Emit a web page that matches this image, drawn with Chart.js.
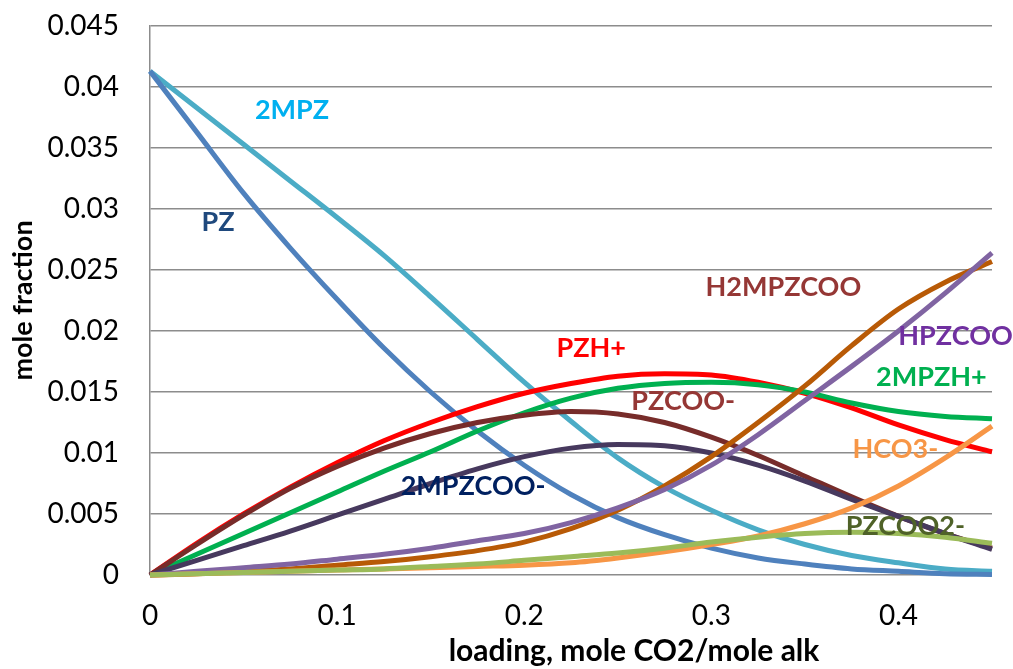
<!DOCTYPE html>
<html>
<head>
<meta charset="utf-8">
<script src="https://cdn.jsdelivr.net/npm/chart.js@4"></script>
<style>
  html, body { margin: 0; padding: 0; background: #ffffff; }
  #wrap { width: 1013px; height: 669px; position: relative; }
</style>
</head>
<body>
<div id="wrap"><canvas id="c" width="1013" height="669"></canvas></div>
<script>
// ---- data ----
const loading = [0, 0.025, 0.05, 0.075, 0.1, 0.125, 0.15, 0.175, 0.2, 0.225, 0.25, 0.275, 0.3, 0.325, 0.35, 0.375, 0.4, 0.425, 0.45];

const PZ       = [0.0413, 0.0363, 0.0313, 0.0268, 0.0226, 0.0186, 0.0150, 0.0118, 0.0090, 0.0066, 0.0047, 0.0033, 0.0022, 0.0014, 0.0009, 0.0005, 0.0003, 0.0001, 0.00005];
const MPZ2     = [0.0413, 0.0383, 0.0353, 0.0323, 0.0293, 0.0262, 0.0228, 0.0193, 0.0158, 0.0126, 0.0096, 0.0072, 0.0053, 0.0037, 0.0025, 0.0016, 0.0010, 0.0005, 0.0003];
const PZHp     = [0, 0.0026, 0.0050, 0.0072, 0.0092, 0.0110, 0.0125, 0.0138, 0.0149, 0.0157, 0.0163, 0.0165, 0.0164, 0.0158, 0.0149, 0.0137, 0.0123, 0.0111, 0.0101];
const MPZHp2   = [0, 0.0017, 0.0034, 0.0051, 0.0068, 0.0085, 0.0101, 0.0118, 0.0133, 0.0145, 0.0153, 0.0157, 0.0158, 0.0156, 0.0150, 0.0141, 0.0134, 0.0130, 0.0128];
const PZCOOm   = [0, 0.0025, 0.0049, 0.0071, 0.0089, 0.0104, 0.0116, 0.0125, 0.0131, 0.0134, 0.0132, 0.0125, 0.0113, 0.0098, 0.0081, 0.0064, 0.0048, 0.0034, 0.0022];
const MPZCOOm2 = [0, 0.0012, 0.0024, 0.0036, 0.0049, 0.0062, 0.0075, 0.0087, 0.0097, 0.0104, 0.0107, 0.0106, 0.0100, 0.0090, 0.0077, 0.0062, 0.0048, 0.0034, 0.0021];
const HPZCOO   = [0, 0.0003, 0.0006, 0.0009, 0.0013, 0.0017, 0.0022, 0.0028, 0.0034, 0.0043, 0.0055, 0.0070, 0.0090, 0.0115, 0.0143, 0.0171, 0.0200, 0.0231, 0.0264];
const H2MPZCOO = [0, 0.0001, 0.0003, 0.0005, 0.0008, 0.0011, 0.0015, 0.0020, 0.0027, 0.0038, 0.0053, 0.0073, 0.0097, 0.0125, 0.0155, 0.0188, 0.0218, 0.0240, 0.0257];
const HCO3m    = [0, 0.0001, 0.0002, 0.0003, 0.0004, 0.0005, 0.0006, 0.0007, 0.0008, 0.0010, 0.0014, 0.0019, 0.0025, 0.0032, 0.0042, 0.0055, 0.0073, 0.0096, 0.0122];
const PZCOO2m  = [0, 0.0001, 0.0002, 0.0003, 0.0004, 0.0005, 0.0007, 0.0009, 0.0012, 0.0015, 0.0018, 0.0022, 0.0027, 0.0031, 0.0034, 0.0035, 0.0034, 0.0031, 0.0026];

const xTickLabels = ['0', '0.1', '0.2', '0.3', '0.4'];
const yTickLabels = ['0', '0.005', '0.01', '0.015', '0.02', '0.025', '0.03', '0.035', '0.04', '0.045'];

// series: name, values, line colour
const seriesDefs = [
  ['PZCOO2-',  PZCOO2m,  '#9BBB59'],
  ['HCO3-',    HCO3m,    '#F79646'],
  ['HPZCOO',   HPZCOO,   '#8064A2'],
  ['H2MPZCOO', H2MPZCOO, '#B85A06'],
  ['2MPZCOO-', MPZCOOm2, '#47395E'],
  ['PZCOO-',   PZCOOm,   '#772C2A'],
  ['2MPZH+',   MPZHp2,   '#00B050'],
  ['PZH+',     PZHp,     '#FF0000'],
  ['PZ',       PZ,       '#4F81BD'],
  ['2MPZ',     MPZ2,     '#4BACC6']
];

// in-plot series labels, in data coordinates
const seriesLabels = [
  { text: '2MPZ',     x: 0.0759, y: 0.0381, color: '#00B0F0' },
  { text: 'PZ',       x: 0.0364, y: 0.0289, color: '#1F497D' },
  { text: 'H2MPZCOO', x: 0.3385, y: 0.0236, color: '#953735' },
  { text: 'PZH+',     x: 0.2358, y: 0.0186, color: '#FF0000' },
  { text: 'PZCOO-',   x: 0.2850, y: 0.0142, color: '#953735' },
  { text: '2MPZCOO-', x: 0.1727, y: 0.0073, color: '#002060' },
  { text: 'HPZCOO',   x: 0.4305, y: 0.0196, color: '#7030A0' },
  { text: '2MPZH+',   x: 0.4176, y: 0.0162, color: '#00B050' },
  { text: 'HCO3-',    x: 0.3984, y: 0.0103, color: '#F79646' },
  { text: 'PZCOO2-',  x: 0.4037, y: 0.0040, color: '#4F6228' }
];

const xTitle = 'loading, mole CO2/mole alk';
const yTitle = 'mole fraction';

const FONT = "Lato, 'Open Sans', 'DejaVu Sans', sans-serif";

const datasets = seriesDefs.map(([name, vals, color]) => ({
  label: name,
  data: loading.map((x, i) => ({ x: x, y: vals[i] })),
  borderColor: color,
  backgroundColor: color,
  borderWidth: 5,
  pointRadius: 0,
  fill: false,
  cubicInterpolationMode: 'monotone',
  clip: false
}));

const labelPlugin = {
  id: 'labelPlugin',
  afterDatasetsDraw(chart) {
    const ctx = chart.ctx;
    const xs = chart.scales.x, ys = chart.scales.y;
    ctx.save();
    ctx.font = "bold 27px " + FONT;
    ctx.textAlign = 'center';
    ctx.textBaseline = 'middle';
    seriesLabels.forEach(l => {
      ctx.fillStyle = l.color;
      ctx.fillText(l.text, xs.getPixelForValue(l.x), ys.getPixelForValue(l.y));
    });
    // axis titles
    ctx.fillStyle = '#000000';
    ctx.font = "bold 30px " + FONT;
    ctx.fillText(xTitle, 634, 651);
    ctx.font = "bold 27px " + FONT;
    ctx.translate(23, (chart.chartArea.top + chart.chartArea.bottom) / 2);
    ctx.rotate(-Math.PI / 2);
    ctx.fillText(yTitle, 0, 0);
    ctx.restore();
  }
};

function draw() {
  new Chart(document.getElementById('c'), {
    type: 'line',
    data: { datasets: datasets },
    options: {
      responsive: false,
      animation: false,
      devicePixelRatio: 1,
      layout: { padding: { left: 0, right: 21, top: 26, bottom: 0 } },
      plugins: { legend: { display: false }, tooltip: { enabled: false } },
      scales: {
        x: {
          type: 'linear',
          min: 0,
          max: 0.45,
          afterBuildTicks(scale) {
            scale.ticks = xTickLabels.map(t => ({ value: parseFloat(t) }));
          },
          ticks: {
            callback: (v) => xTickLabels.find(t => Math.abs(parseFloat(t) - v) < 1e-9) || '',
            font: { family: FONT, size: 28 },
            color: '#000000',
            padding: 24,
            maxRotation: 0,
            autoSkip: false
          },
          grid: { display: false, drawTicks: false },
          border: { display: false },
          afterFit(scale) { scale.height = 94; scale.paddingLeft = 0; scale.paddingRight = 0; }
        },
        y: {
          type: 'linear',
          min: 0,
          max: 0.045,
          afterBuildTicks(scale) {
            scale.ticks = yTickLabels.map(t => ({ value: parseFloat(t) }));
          },
          ticks: {
            callback: (v) => yTickLabels.find(t => Math.abs(parseFloat(t) - v) < 1e-9) || '',
            font: { family: FONT, size: 28 },
            color: '#000000',
            padding: 31,
            autoSkip: false
          },
          grid: { color: '#8C8C8C', lineWidth: 1.5, drawTicks: false },
          border: { display: true, color: '#8C8C8C', width: 1.5 },
          afterFit(scale) { scale.width = 150; scale.paddingTop = 0; scale.paddingBottom = 0; }
        }
      }
    },
    plugins: [labelPlugin]
  });
}

if (document.fonts && document.fonts.load) {
  Promise.all([
    document.fonts.load("28px Lato"),
    document.fonts.load("bold 27px Lato")
  ]).then(draw, draw);
} else {
  draw();
}
</script>
</body>
</html>
